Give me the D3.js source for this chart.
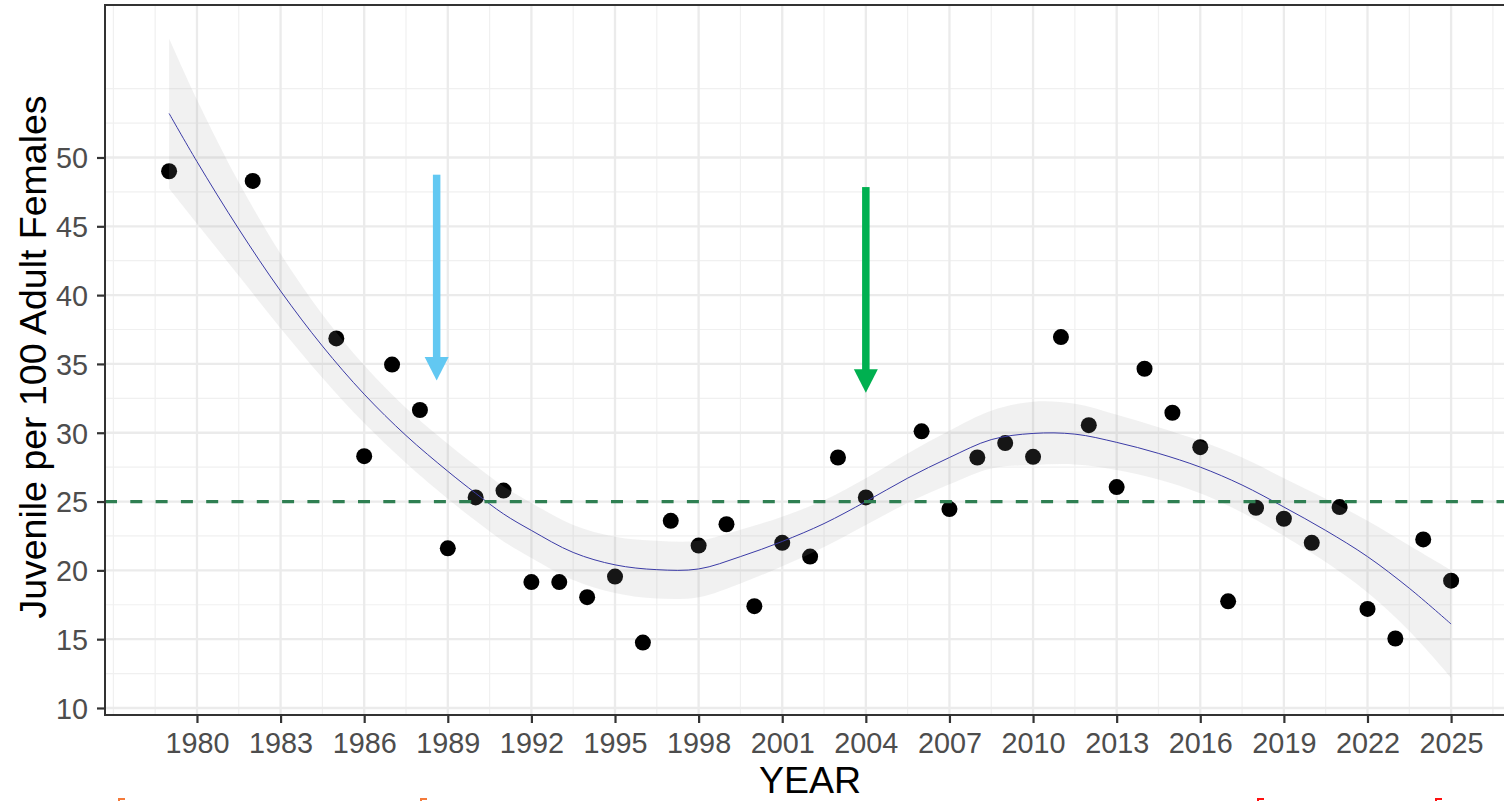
<!DOCTYPE html>
<html>
<head>
<meta charset="utf-8">
<script src="https://cdn.jsdelivr.net/npm/d3@7"></script>
<style>
  html, body { margin: 0; padding: 0; background: #ffffff; }
  svg { display: block; }
</style>
</head>
<body>
<svg id="chart" width="1504" height="801"></svg>
<script>
// ---------- data ----------
const years = [1979,1982,1985,1986,1987,1988,1989,1990,1991,1992,1993,1994,1995,1996,1997,1998,1999,2000,2001,2002,2003,2004,2006,2007,2008,2009,2010,2011,2012,2013,2014,2015,2016,2017,2018,2019,2020,2021,2022,2023,2024,2025];
const ratios = [49.0,48.3,36.85,28.3,34.95,31.65,21.6,25.3,25.8,19.15,19.15,18.05,19.55,14.75,23.6,21.8,23.35,17.4,22.0,21.0,28.2,25.3,30.1,24.45,28.2,29.25,28.25,36.95,30.55,26.05,34.65,31.45,28.95,17.75,24.55,23.75,22.0,24.6,17.2,15.05,22.25,19.25];

// smoother (loess)
const fitYears  = [1979,1980,1981.5,1983,1984.5,1986,1987.5,1989,1990,1991,1992,1993.5,1995,1996.5,1998,1999.5,2001,2002.5,2004,2005.5,2007,2008.5,2010,2011.5,2013,2014.5,2016,2017.5,2019,2020.5,2022,2023.5,2025];
const fitValues = [53.2,49.7,44.8,40.3,36.3,32.8,29.8,27.2,25.6,24.1,22.9,21.3,20.4,20.05,20.1,21.0,22.1,23.4,25.0,26.7,28.2,29.5,29.95,29.9,29.3,28.5,27.5,26.2,24.6,22.9,21.0,18.7,16.1];
const fitHalfCI = [5.45,4.5,3.4,2.7,2.3,2.1,2.0,2.0,2.0,2.0,2.0,2.0,2.05,2.1,2.05,1.95,1.8,1.7,1.7,1.8,1.95,2.1,2.3,2.2,2.0,1.9,1.9,2.0,2.1,2.3,2.6,3.1,3.9];

const refLevel = [25];
const xTicks = [1980,1983,1986,1989,1992,1995,1998,2001,2004,2007,2010,2013,2016,2019,2022,2025];
const yTicks = [10,15,20,25,30,35,40,45,50];
const xMinor = [1977,1978.5,1981.5,1984.5,1987.5,1990.5,1993.5,1996.5,1999.5,2002.5,2005.5,2008.5,2011.5,2014.5,2017.5,2020.5,2023.5,2026.5];
const yMinor = [12.5,17.5,22.5,27.5,32.5,37.5,42.5,47.5,52.5,55];

// arrows: [year, value at tail, value at tip]
const arrowYears = [1988.6, 2004.0];
const arrowFrom  = [48.75, 47.85];
const arrowTo    = [33.8, 32.9];
const arrowColors = ["#62c8f2", "#00b050"];

// ---------- layout ----------
const svg = d3.select("#chart");
const L = 105, T = 5, B = 715;
const x = d3.scaleLinear().domain([1976.7, 2027.3]).range([L, 1515.2]);
const y = d3.scaleLinear().domain([9.49, 61.08]).range([B, T]);
const R = x.range()[1];

svg.append("defs").append("clipPath").attr("id", "panel")
  .append("rect").attr("x", L).attr("y", T).attr("width", R - L).attr("height", B - T);

const g = svg.append("g").attr("clip-path", "url(#panel)");

// grid
g.selectAll(".ymin").data(yMinor).enter().append("line")
  .attr("x1", L).attr("x2", R).attr("y1", d => y(d)).attr("y2", d => y(d))
  .attr("stroke", "#f0f0f0").attr("stroke-width", 1.2);
g.selectAll(".xmin").data(xMinor).enter().append("line")
  .attr("y1", T).attr("y2", B).attr("x1", d => x(d)).attr("x2", d => x(d))
  .attr("stroke", "#f0f0f0").attr("stroke-width", 1.2);
g.selectAll(".ymaj").data(yTicks).enter().append("line")
  .attr("x1", L).attr("x2", R).attr("y1", d => y(d)).attr("y2", d => y(d))
  .attr("stroke", "#ebebeb").attr("stroke-width", 2.3);
g.selectAll(".xmaj").data(xTicks).enter().append("line")
  .attr("y1", T).attr("y2", B).attr("x1", d => x(d)).attr("x2", d => x(d))
  .attr("stroke", "#ebebeb").attr("stroke-width", 2.3);

// points
g.selectAll(".pt").data(years).enter().append("circle")
  .attr("cx", d => x(d)).attr("cy", (d, i) => y(ratios[i]))
  .attr("r", 8).attr("fill", "#000");

// ribbon + smooth line
const fitData = fitYears.map((yr, i) => ({yr, v: fitValues[i], h: fitHalfCI[i]}));
g.append("path").datum(fitData)
  .attr("d", d3.area().curve(d3.curveCatmullRom)
    .x(d => x(d.yr)).y0(d => y(d.v - d.h)).y1(d => y(d.v + d.h)))
  .attr("fill", "#999999").attr("fill-opacity", 0.14);
g.append("path").datum(fitData)
  .attr("d", d3.line().curve(d3.curveCatmullRom).x(d => x(d.yr)).y(d => y(d.v)))
  .attr("fill", "none").attr("stroke", "#3b3ba6").attr("stroke-width", 1);

// reference line
g.selectAll(".ref").data(refLevel).enter().append("line")
  .attr("x1", L).attr("x2", R).attr("y1", d => y(d)).attr("y2", d => y(d))
  .attr("stroke", "#2f7f52").attr("stroke-width", 3.2).attr("stroke-dasharray", "12 13.3");

// arrows
arrowYears.forEach((yr, i) => {
  const cx = x(yr), y0 = y(arrowFrom[i]), y1 = y(arrowTo[i]);
  const headH = 23.5, headW = 24, shaftW = 7.5;
  g.append("rect").attr("x", cx - shaftW / 2).attr("y", y0)
    .attr("width", shaftW).attr("height", (y1 - headH) - y0 + 1).attr("fill", arrowColors[i]);
  g.append("path")
    .attr("d", `M${cx - headW / 2},${y1 - headH} L${cx + headW / 2},${y1 - headH} L${cx},${y1} Z`)
    .attr("fill", arrowColors[i]);
});

// panel border
svg.append("rect").attr("x", L).attr("y", T).attr("width", R - L).attr("height", B - T)
  .attr("fill", "none").attr("stroke", "#333333").attr("stroke-width", 2);

// axes
const xAxis = svg.append("g").attr("transform", `translate(0,${B})`)
  .call(d3.axisBottom(x).tickValues(xTicks).tickFormat(d3.format("d")).tickSize(8).tickPadding(10));
const yAxis = svg.append("g").attr("transform", `translate(${L},0)`)
  .call(d3.axisLeft(y).tickValues(yTicks).tickSize(8).tickPadding(9));
[xAxis, yAxis].forEach(a => {
  a.select(".domain").remove();
  a.selectAll(".tick line").attr("stroke", "#333333").attr("stroke-width", 2.2);
  a.selectAll(".tick text").attr("fill", "#4d4d4d")
    .style("font-family", "Liberation Sans, Arial, sans-serif").style("font-size", "28.8px");
});
xAxis.selectAll(".tick text").attr("dy", "0.71em");
yAxis.selectAll(".tick text").attr("dy", "0.36em");

// axis titles
svg.append("text").attr("x", (L + R) / 2).attr("y", 793).attr("text-anchor", "middle")
  .style("font-family", "Liberation Sans, Arial, sans-serif").style("font-size", "37.5px")
  .attr("fill", "#000").text("YEAR");
svg.append("text").attr("transform", `translate(46,${(T + B) / 2 - 3}) rotate(-90)`)
  .attr("text-anchor", "middle")
  .style("font-family", "Liberation Sans, Arial, sans-serif").style("font-size", "37.5px")
  .attr("fill", "#000").text("Juvenile per 100 Adult Females");

// cropped marks at the bottom edge of the picture
const edgeMarkX = [118, 420, 1257, 1435];
const edgeMarkC = ["#f47a3a", "#f47a3a", "#ff1010", "#ff1010"];
edgeMarkX.forEach((mx, i) => {
  svg.append("rect").attr("x", mx).attr("y", 798).attr("width", 7).attr("height", 2).attr("fill", edgeMarkC[i]);
  svg.append("rect").attr("x", mx).attr("y", 798).attr("width", 2).attr("height", 3).attr("fill", edgeMarkC[i]);
});
</script>
</body>
</html>
